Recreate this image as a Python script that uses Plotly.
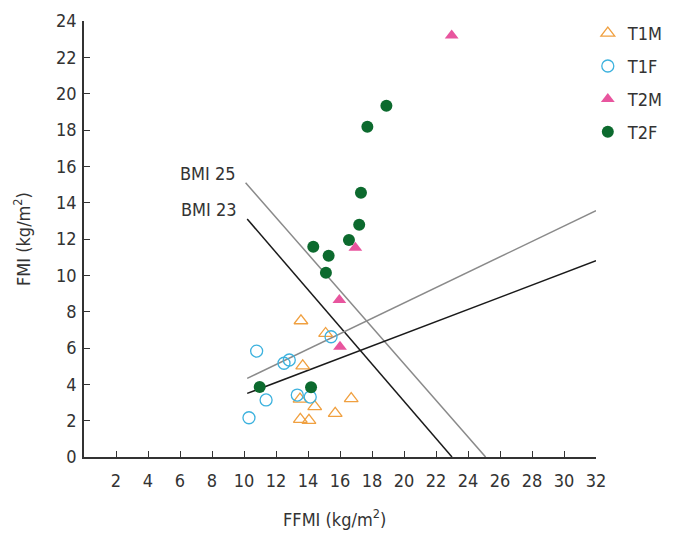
import plotly.graph_objects as go

# ---- data ----
t1m_x = [13.56, 15.1, 13.67, 13.5, 14.42, 16.7, 15.7, 13.52, 14.06]
t1m_y = [7.50, 6.80, 5.02, 3.19, 2.77, 3.21, 2.40, 2.07, 2.02]

t1f_x = [10.79, 12.5, 12.83, 15.44, 11.38, 10.31, 13.33, 14.14]
t1f_y = [5.83, 5.16, 5.34, 6.62, 3.14, 2.16, 3.41, 3.30]

t2m_x = [16.0, 15.96, 16.96, 22.98]
t2m_y = [6.07, 8.64, 11.52, 23.2]

t2f_x = [10.98, 14.19, 15.12, 15.29, 14.33, 16.56, 17.2, 17.31, 17.71, 18.9]
t2f_y = [3.85, 3.84, 10.14, 11.08, 11.57, 11.94, 12.79, 14.55, 18.18, 19.33]

bmi25_x = [10.1, 25.1]
bmi25_y = [15.1, 0.0]
bmi23_x = [10.2, 23.0]
bmi23_y = [13.1, 0.0]
pbf30_x = [10.2, 32.0]
pbf30_y = [4.33, 13.56]
pbf25_x = [10.2, 32.0]
pbf25_y = [3.5, 10.8]

x_ticks = list(range(2, 33, 2))
y_ticks = list(range(0, 25, 2))

FONT = "DejaVu Sans Condensed, Roboto, sans-serif"
TXT = "#333333"
FS = 18

fig = go.Figure()

# reference lines
fig.add_trace(go.Scatter(x=bmi25_x, y=bmi25_y, mode="lines",
                         line=dict(color="#8a8a8a", width=1.5), showlegend=False, hoverinfo="skip"))
fig.add_trace(go.Scatter(x=bmi23_x, y=bmi23_y, mode="lines",
                         line=dict(color="#1a1a1a", width=1.5), showlegend=False, hoverinfo="skip"))
fig.add_trace(go.Scatter(x=pbf30_x, y=pbf30_y, mode="lines",
                         line=dict(color="#8a8a8a", width=1.5), showlegend=False, hoverinfo="skip"))
fig.add_trace(go.Scatter(x=pbf25_x, y=pbf25_y, mode="lines",
                         line=dict(color="#1a1a1a", width=1.5), showlegend=False, hoverinfo="skip"))

# data series
fig.add_trace(go.Scatter(x=t1m_x, y=t1m_y, mode="markers", name="T1M", legendgroup="a",
                         marker=dict(symbol="triangle-up-open", size=12, color="#F0A040",
                                     line=dict(width=1.3))))
fig.add_trace(go.Scatter(x=t1f_x, y=t1f_y, mode="markers", name="T1F", legendgroup="b",
                         marker=dict(symbol="circle-open", size=12, color="#3DB2DE",
                                     line=dict(width=1.3))))
fig.add_trace(go.Scatter(x=t2m_x, y=t2m_y, mode="markers", name="T2M", legendgroup="c",
                         marker=dict(symbol="triangle-up", size=12, color="#E8559E")))
fig.add_trace(go.Scatter(x=t2f_x, y=t2f_y, mode="markers", name="T2F", legendgroup="d",
                         marker=dict(symbol="circle", size=12, color="#0C6A2E")))

annos = [
    dict(x=9.6, y=15.63, text="BMI 25", xanchor="right", yanchor="middle"),
    dict(x=9.66, y=13.6, text="BMI 23", xanchor="right", yanchor="middle"),
    dict(x=32.44, y=13.43, text="PBF 30%", xanchor="left", yanchor="middle"),
    dict(x=32.56, y=11.0, text="PBF 25%", xanchor="left", yanchor="middle"),
]
for a in annos:
    fig.add_annotation(**a, xref="x", yref="y", showarrow=False,
                       font=dict(family=FONT, size=FS, color=TXT))

# axis titles
fig.add_annotation(x=0.490, y=-0.140, xref="paper", yref="paper", showarrow=False,
                   text="FFMI (kg/m<sup>2</sup>)", xanchor="center", yanchor="middle",
                   font=dict(family=FONT, size=FS, color=TXT))
fig.add_annotation(x=-0.121, y=0.5, xref="paper", yref="paper", showarrow=False,
                   text="FMI (kg/m<sup>2</sup>)", textangle=-90,
                   xanchor="center", yanchor="middle",
                   font=dict(family=FONT, size=FS, color=TXT))

fig.update_layout(
    width=688, height=542,
    margin=dict(l=76, r=100, t=13, b=93, autoexpand=False),
    paper_bgcolor="white", plot_bgcolor="white",
    font=dict(family=FONT, size=FS, color=TXT),
    legend=dict(x=0.984, y=1.014, xanchor="left", yanchor="top",
                font=dict(family=FONT, size=FS, color=TXT),
                itemwidth=30, tracegroupgap=6.5, bgcolor="rgba(0,0,0,0)",
                groupclick="toggleitem"),
    xaxis=dict(range=[0, 32], tickvals=x_ticks, ticks="inside", ticklen=6,
               tickcolor="#333", showline=True, linecolor="#333", linewidth=1.5,
               showgrid=False, zeroline=False, automargin=False,
               ticklabelstandoff=7,
               tickfont=dict(family=FONT, size=FS, color=TXT)),
    yaxis=dict(range=[0, 24], tickvals=y_ticks, ticks="inside", ticklen=6,
               tickcolor="#333", showline=True, linecolor="#333", linewidth=1.5,
               showgrid=False, zeroline=False, automargin=False,
               ticklabelstandoff=2,
               tickfont=dict(family=FONT, size=FS, color=TXT)),
)

fig.write_html("out.html")
